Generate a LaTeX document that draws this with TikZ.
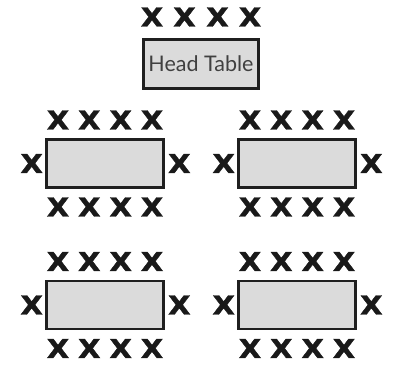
\documentclass[tikz,border=0pt]{standalone}
\usepackage{fontspec}
\setmainfont{Lato}
\newfontfamily\seatfont{DejaVu Sans Bold}[FakeBold=1.5]
\usetikzlibrary{positioning}

\newcommand{\seatX}{\scalebox{1.12}[1]{X}}

\tikzset{tablebox/.style = {draw = black!88, fill = black!14, line width = 2.8pt,
                            minimum width = 117pt, minimum height = 48pt, inner sep = 0pt},
         seat/.style = {font = \seatfont\fontsize{26}{26}\selectfont,
                        text = black!90, inner sep = 0pt}
        }

\begin{document}
\begin{tikzpicture}[x=1pt, y=1pt]
  \useasboundingbox (0,0) rectangle (396,369);

  % head table
  \node[tablebox, minimum width = 115pt, minimum height = 49pt,
        font = \fontsize{21.5}{21.5}\selectfont, text = black!75] (head) at (201,305) {Head Table};
  \foreach \s/\dx in {1/-49, 2/-16.5, 3/16.5, 4/49}
    \node[seat] (head n\s) at ([shift={(\dx,47)}]head.center) {\seatX};

  % guest tables
  \foreach \t/\cx/\cy in {1/105/205.5, 2/297/205.5, 3/105/64, 4/297/64}{
    \node[tablebox] (t\t) at (\cx,\cy) {};
    \foreach \s/\dx in {1/-47, 2/-15.7, 3/15.7, 4/47}{
      \node[seat] (t\t n\s) at ([shift={(\dx,43.5)}]t\t.center) {\seatX};
      \node[seat] (t\t s\s) at ([shift={(\dx,-43.5)}]t\t.center) {\seatX};
    }
    \node[seat, left = 2pt of t\t] (t\t w) {\seatX};
    \node[seat, right = 3pt of t\t] (t\t e) {\seatX};
  }
\end{tikzpicture}
\end{document}
